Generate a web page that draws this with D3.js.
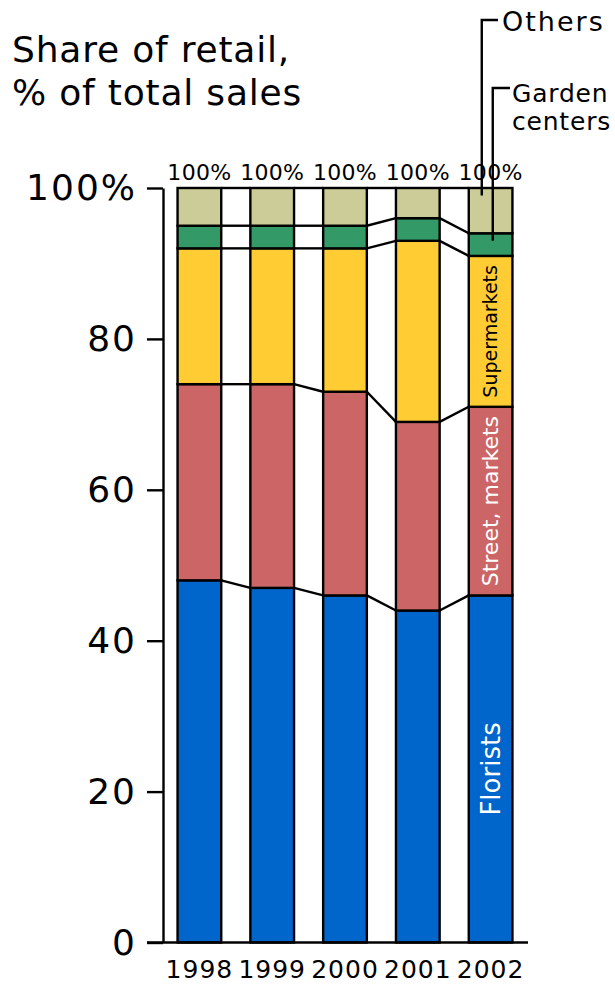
<!DOCTYPE html>
<html>
<head>
<meta charset="utf-8">
<script src="https://cdn.jsdelivr.net/npm/d3@7"></script>
<style>
  html, body { margin: 0; padding: 0; background: #fff; }
  svg { display: block; font-family: "DejaVu Sans", Verdana, sans-serif; }
</style>
</head>
<body>
<svg id="chart" width="615" height="984"></svg>
<script>
// Retail share of flower sales by channel, % of total
const years = ["1998", "1999", "2000", "2001", "2002"];
const channels = ["Florists", "Street, markets", "Supermarkets", "Garden centers", "Others"];
const florists      = [48, 47, 46, 44, 46];
const streetMarkets = [26, 27, 27, 25, 25];
const supermarkets  = [18, 18, 19, 24, 20];
const gardenCenters = [3, 3, 3, 3, 3];
const others        = [5, 5, 5, 4, 6];
const yTicks = [0, 20, 40, 60, 80, 100];
const colors = ["#0066CC", "#CC6666", "#FFCC33", "#339966", "#CCCC99"];

const seriesValues = [florists, streetMarkets, supermarkets, gardenCenters, others];
const rows = years.map((yr, i) => {
  const r = { year: yr };
  channels.forEach((c, k) => { r[c] = seriesValues[k][i]; });
  return r;
});

const svg = d3.select("#chart");
const x = d3.scaleBand().domain(years).range([163, 527]).paddingInner(0.4).paddingOuter(0.2);
const y = d3.scaleLinear().domain([0, 100]).range([942.5, 188]);
const sw = 2.4;

const stack = d3.stack().keys(channels)(rows);

// Title
const title = svg.append("text").attr("x", 12).attr("font-size", 36).attr("letter-spacing", 0.8).attr("fill", "#000");
title.append("tspan").attr("x", 12).attr("y", 62).text("Share of retail,");
title.append("tspan").attr("x", 12).attr("y", 105).text("% of total sales");

// Y axis
const yAxis = d3.axisLeft(y).tickValues(yTicks).tickSize(16).tickSizeOuter(0).tickPadding(10)
  .tickFormat(d => d === 100 ? "100%" : d);
const gy = svg.append("g").attr("transform", "translate(163,0)").call(yAxis);
gy.select(".domain").attr("stroke", "#000").attr("stroke-width", sw);
gy.selectAll(".tick line").attr("stroke", "#000").attr("stroke-width", sw);
gy.selectAll(".tick text").attr("font-size", 36).attr("letter-spacing", 2).attr("fill", "#000")
  .attr("font-family", "DejaVu Sans");

// Connectors between stacked boundaries of neighbouring bars
const connectors = svg.append("g").attr("stroke", "#000").attr("stroke-width", sw).attr("fill", "none");
stack.forEach(layer => {
  for (let i = 0; i < years.length - 1; i++) {
    connectors.append("line")
      .attr("x1", x(years[i]) + x.bandwidth()).attr("y1", y(layer[i][1]))
      .attr("x2", x(years[i + 1])).attr("y2", y(layer[i + 1][1]));
  }
});

// Stacked bars
svg.append("g").selectAll("g").data(stack).join("g")
  .attr("fill", (d, k) => colors[k])
  .selectAll("rect").data(d => d).join("rect")
  .attr("x", d => x(d.data.year))
  .attr("y", d => y(d[1]))
  .attr("width", x.bandwidth())
  .attr("height", d => y(d[0]) - y(d[1]))
  .attr("stroke", "#000").attr("stroke-width", sw);

// Baseline
svg.append("line").attr("x1", 147).attr("x2", x.range()[1] + 1)
  .attr("y1", y(0)).attr("y2", y(0)).attr("stroke", "#000").attr("stroke-width", sw);

// Totals above bars
svg.append("g").selectAll("text").data(rows).join("text")
  .attr("x", d => x(d.year) + x.bandwidth() / 2)
  .attr("y", y(100) - 8)
  .attr("text-anchor", "middle").attr("font-size", 22).attr("letter-spacing", 0.3).attr("fill", "#000")
  .text(d => d3.sum(channels, c => d[c]) + "%");

// Year labels
svg.append("g").selectAll("text").data(years).join("text")
  .attr("x", d => x(d) + x.bandwidth() / 2)
  .attr("y", 978)
  .attr("text-anchor", "middle").attr("font-size", 25).attr("letter-spacing", 1).attr("fill", "#000")
  .text(d => d);

// In-bar labels on the last bar
const last = years.length - 1;
const lastX = x(years[last]) + x.bandwidth() / 2;
const inBar = [
  { k: 0, size: 26, color: "#fff" },
  { k: 1, size: 22, color: "#fff" },
  { k: 2, size: 19, color: "#000" }
];
svg.append("g").selectAll("text").data(inBar).join("text")
  .attr("transform", d => {
    const seg = stack[d.k][last];
    return `translate(${lastX},${(y(seg[0]) + y(seg[1])) / 2}) rotate(-90)`;
  })
  .attr("text-anchor", "middle").attr("dy", "0.35em")
  .attr("font-size", d => d.size).attr("fill", d => d.color)
  .text(d => channels[d.k]);

// Leader labels for thin segments
const lastLeft = x(years[last]);
const othersSeg = stack[4][last];
const gardenSeg = stack[3][last];
const leaders = svg.append("g").attr("stroke", "#000").attr("stroke-width", sw).attr("fill", "none");
leaders.append("path").attr("d", `M${lastLeft + 13},${y(othersSeg[0] + 5 * (othersSeg[1] - othersSeg[0]) / 6)} V20 H498`);
leaders.append("path").attr("d", `M${lastLeft + 24},${y(gardenSeg[0] + 2 * (gardenSeg[1] - gardenSeg[0]) / 3)} V88 H510`);

svg.append("text").attr("x", 502).attr("y", 31).attr("font-size", 27).attr("letter-spacing", 2)
  .attr("fill", "#000").text("Others");
const gl = svg.append("text").attr("font-size", 25).attr("letter-spacing", 0.8).attr("fill", "#000");
gl.append("tspan").attr("x", 512).attr("y", 102).text("Garden");
gl.append("tspan").attr("x", 512).attr("y", 130).text("centers");
</script>
</body>
</html>
